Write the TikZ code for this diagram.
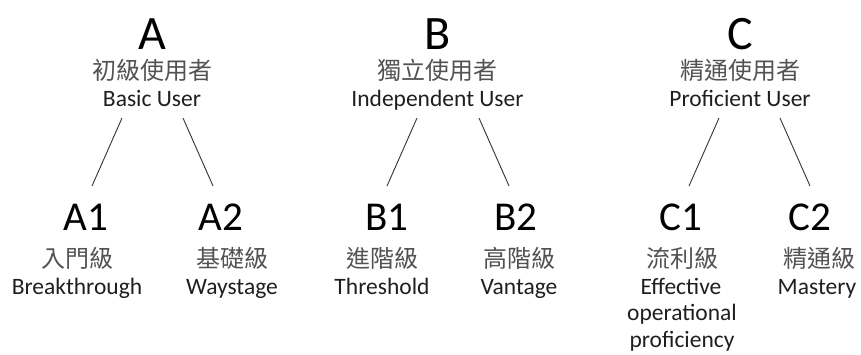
\documentclass[tikz,border=0pt]{standalone}
\usepackage{fontspec}
\setmainfont{Carlito}
\newfontfamily\cjk{Noto Sans CJK TC}
\begin{document}
\begin{tikzpicture}[x=1pt,y=-1pt,
  toplevel/.style={font=\fontsize{48}{56}\selectfont, text=black, inner sep=0pt, anchor=base},
  sublevel/.style={font=\fontsize{41}{48}\selectfont, text=black, inner sep=0pt, anchor=base},
  zhlabel/.style={font=\cjk\fontsize{24}{28}\selectfont, text=black!68, inner sep=0pt, anchor=base},
  enlabel/.style={font=\fontsize{23.5}{28}\selectfont, text=black!88, inner sep=0pt, anchor=base},
  branch/.style={draw=black!80, line width=0.9pt}]
\useasboundingbox (0,0) rectangle (861,354);
% top levels
\node[toplevel] (A) at (152,49) {A};
\node[zhlabel] (A-zh) at (152,79) {初級使用者};
\node[enlabel] (A-en) at (152,106) {Basic User};
\node[toplevel] (B) at (438,49) {B};
\node[zhlabel] (B-zh) at (437,79) {獨立使用者};
\node[enlabel] (B-en) at (437.5,106) {Independent User};
\node[toplevel] (C) at (740,49) {C};
\node[zhlabel] (C-zh) at (740,79) {精通使用者};
\node[enlabel] (C-en) at (740,106) {Proficient User};
% sub levels
\node[sublevel] (A1) at (86,230) {A1};
\node[zhlabel] (A1-zh) at (77,267) {入門級};
\node[enlabel] (A1-en) at (77,294) {Breakthrough};
\node[sublevel] (A2) at (221,230) {A2};
\node[zhlabel] (A2-zh) at (232,267) {基礎級};
\node[enlabel] (A2-en) at (232,294) {Waystage};
\node[sublevel] (B1) at (387,230) {B1};
\node[zhlabel] (B1-zh) at (382,267) {進階級};
\node[enlabel] (B1-en) at (382,294) {Threshold};
\node[sublevel] (B2) at (516,230) {B2};
\node[zhlabel] (B2-zh) at (519,267) {高階級};
\node[enlabel] (B2-en) at (519,294) {Vantage};
\node[sublevel] (C1) at (681,230) {C1};
\node[zhlabel] (C1-zh) at (682,267) {流利級};
\node[enlabel] (C1-en1) at (681,294) {Effective};
\node[enlabel] (C1-en2) at (682,320.5) {operational};
\node[enlabel] (C1-en3) at (682,347) {proficiency};
\node[sublevel] (C2) at (810,230) {C2};
\node[zhlabel] (C2-zh) at (819,267) {精通級};
\node[enlabel] (C2-en) at (817,294) {Mastery};
% connector ends
\coordinate (A-l) at (122,118); \coordinate (A1-t) at (92,186);
\coordinate (A-r) at (183,118); \coordinate (A2-t) at (213,186);
\coordinate (B-l) at (417,118); \coordinate (B1-t) at (387,186);
\coordinate (B-r) at (479,118); \coordinate (B2-t) at (509,186);
\coordinate (C-l) at (719,118); \coordinate (C1-t) at (689,186);
\coordinate (C-r) at (780,118); \coordinate (C2-t) at (810,186);
\draw[branch] (A-l) -- (A1-t);
\draw[branch] (A-r) -- (A2-t);
\draw[branch] (B-l) -- (B1-t);
\draw[branch] (B-r) -- (B2-t);
\draw[branch] (C-l) -- (C1-t);
\draw[branch] (C-r) -- (C2-t);
\end{tikzpicture}
\end{document}
